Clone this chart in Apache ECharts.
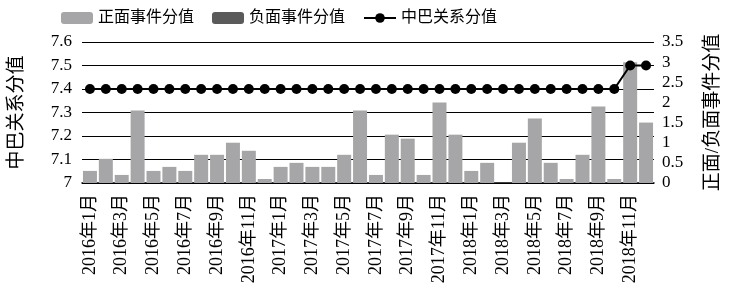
<!DOCTYPE html>
<html>
<head>
<meta charset="utf-8">
<script src="https://cdn.jsdelivr.net/npm/echarts@6/dist/echarts.min.js"></script>
<style>
  html, body { margin: 0; padding: 0; background: #fff; }
  #chart { width: 731px; height: 301px; }
</style>
</head>
<body>
<div id="chart"></div>
<script>
// 月份
const months = []
for (let y = 2016; y <= 2018; y++) {
  for (let m = 1; m <= 12; m++) months.push(y + '年' + m + '月')
}

// 正面事件分值
const positiveScores = [
  0.3, 0.6, 0.2, 1.8, 0.3, 0.4, 0.3, 0.7, 0.7, 1.0, 0.8, 0.1,
  0.4, 0.5, 0.4, 0.4, 0.7, 1.8, 0.2, 1.2, 1.1, 0.2, 2.0, 1.2,
  0.3, 0.5, 0, 1.0, 1.6, 0.5, 0.1, 0.7, 1.9, 0.1, 3.0, 1.5,
]
// 负面事件分值
const negativeScores = [
  0, 0, 0, 0, 0, 0, 0, 0, 0, 0, 0, 0,
  0, 0, 0, 0, 0, 0, 0, 0, 0, 0, 0, 0,
  0, 0, 0, 0, 0, 0, 0, 0, 0, 0, 0, 0,
]
// 中巴关系分值
const relationScores = [
  7.4, 7.4, 7.4, 7.4, 7.4, 7.4, 7.4, 7.4, 7.4, 7.4, 7.4, 7.4,
  7.4, 7.4, 7.4, 7.4, 7.4, 7.4, 7.4, 7.4, 7.4, 7.4, 7.4, 7.4,
  7.4, 7.4, 7.4, 7.4, 7.4, 7.4, 7.4, 7.4, 7.4, 7.4, 7.5, 7.5,
]

const font = "'Liberation Serif', 'Noto Sans CJK SC', serif"

const myEchart = echarts.init(document.querySelector('#chart'))
myEchart.setOption({
  animation: false,
  textStyle: { fontFamily: font },
  grid: {
    left: 80,
    right: 73,
    top: 42,
    bottom: 118,
  },
  legend: {
    top: 5,
    left: 56,
    itemGap: 18,
    itemWidth: 32,
    itemHeight: 12,
    textStyle: { fontSize: 16, color: '#000', fontFamily: font },
    data: ['正面事件分值', '负面事件分值', '中巴关系分值'],
  },
  xAxis: {
    type: 'category',
    data: months,
    axisLine: { lineStyle: { color: '#000', width: 1.5 } },
    axisTick: { show: false },
    axisLabel: {
      interval: 1,
      rotate: 90,
      margin: 11,
      fontSize: 18,
      color: '#000',
      fontFamily: font,
    },
  },
  yAxis: [
    {
      type: 'value',
      min: 7,
      max: 7.6,
      interval: 0.1,
      name: '中巴关系分值',
      nameLocation: 'middle',
      nameRotate: 90,
      nameGap: 55,
      nameTextStyle: { fontSize: 19, color: '#000', fontFamily: font },
      axisLine: { show: false },
      axisTick: { show: false },
      axisLabel: {
        fontSize: 17,
        color: '#000',
        margin: 10,
        formatter: (v) => String(Math.round(v * 10) / 10),
      },
      splitLine: { lineStyle: { color: '#000', width: 1 } },
    },
    {
      type: 'value',
      min: 0,
      max: 3.5,
      interval: 0.5,
      position: 'right',
      name: '正面/负面事件分值',
      nameLocation: 'middle',
      nameRotate: 90,
      nameGap: 50,
      nameTextStyle: { fontSize: 19, color: '#000', fontFamily: font },
      axisLine: { show: false },
      axisTick: { show: false },
      axisLabel: { fontSize: 17, color: '#000', margin: 8 },
      splitLine: { show: false },
    },
  ],
  series: [
    {
      name: '正面事件分值',
      type: 'bar',
      yAxisIndex: 1,
      barCategoryGap: '12%',
      barGap: '-100%',
      itemStyle: { color: '#a6a6a8' },
      data: positiveScores,
      z: 1,
    },
    {
      name: '负面事件分值',
      type: 'bar',
      yAxisIndex: 1,
      itemStyle: { color: '#5a5a5a' },
      data: negativeScores,
      z: 1,
    },
    {
      name: '中巴关系分值',
      type: 'line',
      yAxisIndex: 0,
      symbol: 'circle',
      symbolSize: 10,
      lineStyle: { color: '#000', width: 2 },
      itemStyle: { color: '#000' },
      data: relationScores,
      z: 3,
    },
  ],
})
</script>
</body>
</html>
